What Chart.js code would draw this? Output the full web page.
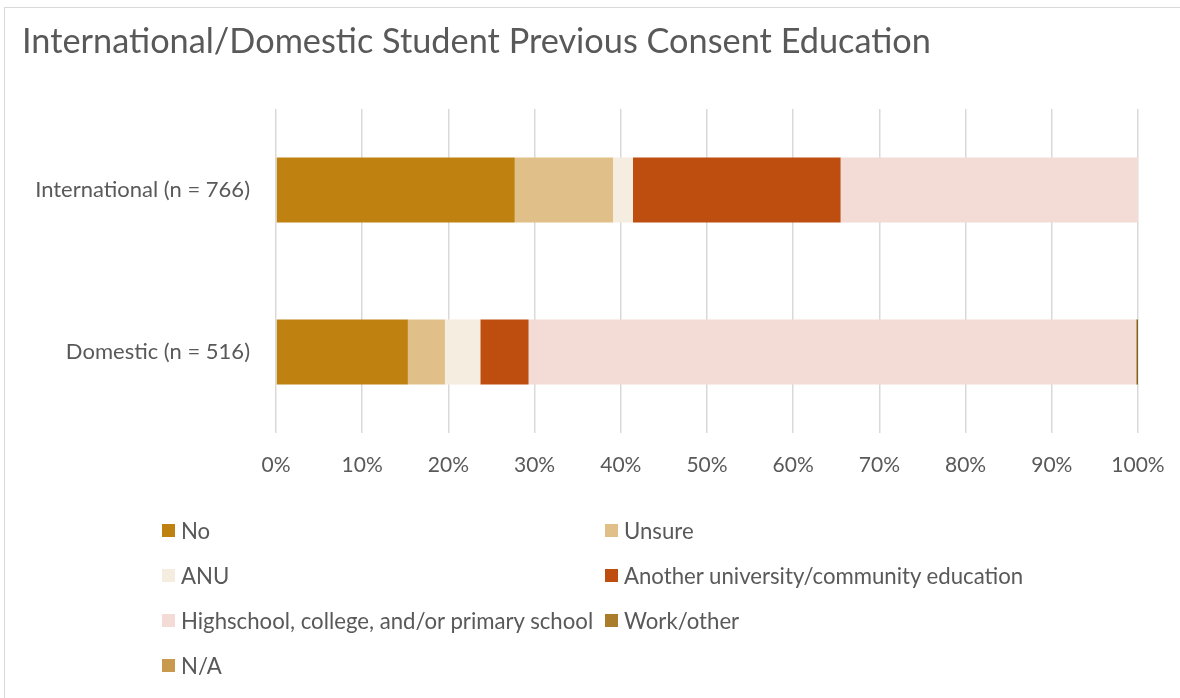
<!DOCTYPE html>
<html>
<head>
<meta charset="utf-8">
<script src="https://cdn.jsdelivr.net/npm/chart.js@4.4.1/dist/chart.umd.min.js"></script>
<style>
  html, body { margin: 0; padding: 0; background: #fff; }
  #wrap { position: relative; width: 1180px; height: 698px; overflow: hidden; }
  #frame { position: absolute; left: 4px; top: 7px; width: 1200px; height: 720px; border: 1px solid #d9d9d9; box-sizing: border-box; }
  #title { position: absolute; left: 22px; top: 19px; font-family: Lato, sans-serif; font-size: 34.3px; color: #595959; white-space: nowrap; }
  #chartBox { position: absolute; left: 0; top: 0; width: 1180px; height: 698px; }
  #legend { position: absolute; left: 162px; top: 517px; font-family: Lato, sans-serif; font-size: 22.2px; color: #595959; }
  .item { position: absolute; white-space: nowrap; display: flex; align-items: center; }
  .item span.box { width: 13px; height: 13px; display: inline-block; margin-right: 6px; }
</style>
</head>
<body>
<div id="wrap">
  <div id="frame"></div>
  <div id="chartBox"><canvas id="barChart" width="1180" height="698"></canvas></div>
  <div id="title">International/Domestic Student Previous Consent Education</div>
  <div id="legend"></div>
</div>
<script>
// data (percent of respondents)
const categories = ['International (n = 766)', 'Domestic (n = 516)'];
const seriesNames = ['No', 'Unsure', 'ANU', 'Another university/community education',
  'Highschool, college, and/or primary school', 'Work/other', 'N/A'];
const noVals = [27.7, 15.3];
const unsureVals = [11.4, 4.3];
const anuVals = [2.3, 4.1];
const anotherUniVals = [24.1, 5.6];
const highschoolVals = [34.5, 70.5];
const workOtherVals = [0, 0.2];
const naVals = [0, 0];
const xTicks = [0, 10, 20, 30, 40, 50, 60, 70, 80, 90, 100];

const colors = ['#BF8211', '#E0C088', '#F5EDE0', '#BE4E0F', '#F2DCD5', '#8A6118', '#C99A4E'];
const legendColors = ['#BF8211', '#E0C088', '#F5EDE0', '#BE4E0F', '#F2DCD5', '#A97D2C', '#C99A4E'];
const allVals = [noVals, unsureVals, anuVals, anotherUniVals, highschoolVals, workOtherVals, naVals];

const ctx = document.getElementById('barChart').getContext('2d');
const FONT = 'Lato, sans-serif';

const chart = new Chart(ctx, {
  type: 'bar',
  data: {
    labels: categories,
    datasets: seriesNames.map((name, i) => ({
      label: name,
      data: allVals[i],
      backgroundColor: colors[i],
      borderWidth: 0,
      categoryPercentage: 1,
      barPercentage: 0.4
    }))
  },
  options: {
    indexAxis: 'y',
    responsive: false,
    animation: false,
    devicePixelRatio: 1,
    layout: { padding: { top: 109, right: 42, bottom: 215, left: 0 } },
    scales: {
      x: {
        stacked: true,
        min: 0,
        max: 100,
        afterBuildTicks: scale => { scale.ticks = xTicks.map(v => ({ value: v })); },
        afterFit: scale => {
          scale.height = 50;
          scale.paddingLeft = 0;
          scale.paddingRight = 0;
        },
        border: { display: false },
        grid: { color: '#d9d9d9', lineWidth: 1.5, drawTicks: false },
        ticks: {
          color: '#595959',
          font: { family: FONT, size: 21 },
          padding: 20,
          callback: v => v + '%'
        }
      },
      y: {
        stacked: true,
        afterFit: scale => { scale.width = 276; },
        border: { display: false },
        grid: { display: false, drawTicks: false },
        ticks: {
          color: '#595959',
          font: { family: FONT, size: 22 },
          padding: 26
        }
      }
    },
    plugins: {
      legend: { display: false },
      tooltip: { enabled: false }
    }
  }
});

// two-column legend like the original
const legendEl = document.getElementById('legend');
chart.data.datasets.forEach((ds, i) => {
  const item = document.createElement('div');
  item.className = 'item';
  item.style.left = (i % 2 === 0 ? 0 : 443) + 'px';
  item.style.top = (Math.floor(i / 2) * 45) + 'px';
  const box = document.createElement('span');
  box.className = 'box';
  box.style.background = legendColors[i];
  item.appendChild(box);
  item.appendChild(document.createTextNode(ds.label));
  legendEl.appendChild(item);
});
</script>
</body>
</html>
